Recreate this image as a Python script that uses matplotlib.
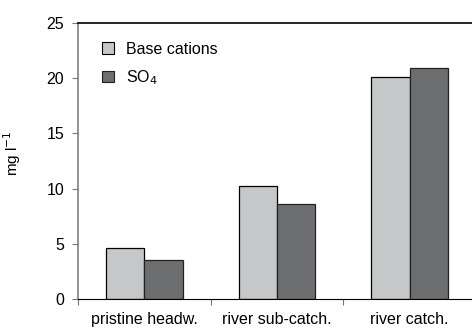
import numpy as np
import matplotlib
matplotlib.use("Agg")
from matplotlib import pyplot as plt

plt.rcParams['font.family'] = ['Liberation Sans', 'DejaVu Sans']

sites = ['pristine headw.', 'river sub-catch.', 'river catch.']
base_cations = [4.6, 10.25, 20.15]
so4 = [3.5, 8.65, 20.95]
yticks = [0, 5, 10, 15, 20, 25]

light = '#c6c7c8'
dark = '#6d6e70'

fig = plt.figure(figsize=(4.72, 3.28), dpi=100)
ax = fig.add_axes([0.1653, 0.0884, 0.8432, 0.8415])

x = np.arange(len(sites))
w = 0.289
ax.bar(x - w / 2, base_cations, w, color=light, edgecolor='black', linewidth=0.9, label='Base cations')
ax.bar(x + w / 2, so4, w, color=dark, edgecolor='#222222', linewidth=0.9, label='SO$_4$')

ax.set_xlim(-0.5, 2.5)
ax.set_ylim(0, 25)
ax.set_yticks(yticks)

# category labels between the boundary ticks
ax.set_xticks([-0.5, 0.5, 1.5, 2.5])
ax.set_xticklabels([])
ax.set_xticks(x, minor=True)
ax.set_xticklabels(sites, minor=True, fontsize=11.5)
ax.tick_params(axis='x', which='minor', length=0, pad=9)
ax.tick_params(axis='x', which='major', length=4, color='#777777', direction='out')
ax.tick_params(axis='y', length=4, color='#777777', labelsize=11.5, pad=6)

ax.spines['right'].set_visible(False)
ax.spines['left'].set_color('#808080')
ax.spines['left'].set_linewidth(1.2)
ax.spines['bottom'].set_color('black')
ax.spines['top'].set_color('black')
ax.spines['top'].set_linewidth(1.2)

ax.set_ylabel('mg l$^{-1}$', fontsize=11)
ax.yaxis.set_label_coords(-0.138, 0.53)

leg = ax.legend(loc='upper left', bbox_to_anchor=(0.025, 0.985), frameon=False,
                fontsize=11.5, handlelength=0.7, handleheight=0.7,
                handletextpad=0.75, labelspacing=0.75)
for h in leg.legend_handles:
    h.set_linewidth(0.8)

fig.savefig('out.png', dpi=100)
